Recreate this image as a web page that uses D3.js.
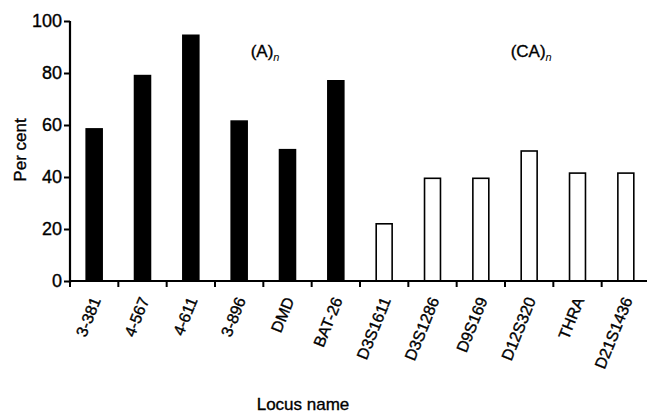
<!DOCTYPE html>
<html>
<head>
<meta charset="utf-8">
<script src="https://cdn.jsdelivr.net/npm/d3@7"></script>
<style>
  body { margin: 0; background: #fff; }
  text { font-family: "Liberation Sans", Arial, sans-serif; fill: #000; stroke: #000; stroke-width: 0.35px; }
</style>
</head>
<body>
<div class="canvas"></div>
<script>
const loci = ["3-381", "4-567", "4-611", "3-896", "DMD", "BAT-26",
  "D3S1611", "D3S1286", "D9S169", "D12S320", "THRA", "D21S1436"];
const percent = [58.5, 79, 94.5, 61.5, 50.5, 77, 22, 39.5, 39.5, 50, 41.5, 41.5];
const repeatType = ["A", "A", "A", "A", "A", "A", "CA", "CA", "CA", "CA", "CA", "CA"];
const yTicks = [0, 20, 40, 60, 80, 100];

const width = 647, height = 413;
const margin = { top: 21, right: -3, bottom: 132, left: 70 };
const graphWidth = width - margin.left - margin.right;
const graphHeight = height - margin.top - margin.bottom;

const svg = d3
  .select(".canvas")
  .append("svg")
  .attr("width", width)
  .attr("height", height);

const graph = svg
  .append("g")
  .attr("transform", `translate(${margin.left}, ${margin.top})`);

// scales
const x = d3.scaleBand().domain(loci).range([0, graphWidth]).paddingInner(0).paddingOuter(0);
const y = d3.scaleLinear().domain([0, 100]).range([graphHeight, 0]);

const barW = x.bandwidth() * 0.33;

// bars
graph
  .selectAll("rect.bar")
  .data(loci)
  .enter()
  .append("rect")
  .attr("class", "bar")
  .attr("x", (d) => x(d) + (x.bandwidth() - barW) / 2)
  .attr("y", (d, i) => y(percent[i]))
  .attr("width", barW)
  .attr("height", (d, i) => graphHeight - y(percent[i]))
  .attr("fill", (d, i) => (repeatType[i] === "A" ? "#000" : "#fff"))
  .attr("stroke", "#000")
  .attr("stroke-width", 1.6);

// x axis: ticks at band boundaries
const xAxisGroup = graph
  .append("g")
  .attr("transform", `translate(0, ${graphHeight})`);

xAxisGroup
  .append("line")
  .attr("x1", 0)
  .attr("x2", graphWidth)
  .attr("stroke", "#000")
  .attr("stroke-width", 2.2);

xAxisGroup
  .selectAll("line.tick")
  .data(loci)
  .enter()
  .append("line")
  .attr("class", "tick")
  .attr("x1", (d) => x(d))
  .attr("x2", (d) => x(d))
  .attr("y1", 0)
  .attr("y2", 6)
  .attr("stroke", "#000")
  .attr("stroke-width", 2);

xAxisGroup
  .selectAll("text.lbl")
  .data(loci)
  .enter()
  .append("text")
  .attr("class", "lbl")
  .attr("text-anchor", "end")
  .attr("font-size", 16)
  .attr("transform", (d) => `translate(${x(d) + x.bandwidth() / 2 + 7}, 19) rotate(-68)`)
  .text((d) => d);

// y axis
const yAxis = d3.axisLeft(y).tickValues(yTicks).tickSize(6).tickPadding(2);
const yAxisGroup = graph.append("g").call(yAxis);
yAxisGroup.select(".domain").attr("stroke-width", 2.2).attr("d", `M0,${graphHeight + 2}V0`);
yAxisGroup.selectAll(".tick line").attr("stroke-width", 2);
yAxisGroup
  .selectAll(".tick text")
  .attr("font-size", 18)
  .attr("font-family", "Liberation Sans, Arial, sans-serif")
  .attr("fill", "#000");

// group labels
const groupLabels = [
  { name: "(A)", at: "4-611", dx: 84 },
  { name: "(CA)", at: "D9S169", dx: 54 }
];
groupLabels.forEach((g) => {
  const t = graph
    .append("text")
    .attr("x", x(g.at) + g.dx)
    .attr("y", 36)
    .attr("font-size", 17);
  t.append("tspan").text(g.name);
  t.append("tspan")
    .attr("dy", 4)
    .attr("font-size", 11)
    .attr("font-style", "italic")
    .attr("stroke-width", 0)
    .text("n");
});

// axis titles
svg
  .append("text")
  .attr("transform", `translate(26, 150) rotate(-90)`)
  .attr("text-anchor", "middle")
  .attr("font-size", 17)
  .text("Per cent");

svg
  .append("text")
  .attr("x", 303)
  .attr("y", 410)
  .attr("text-anchor", "middle")
  .attr("font-size", 17)
  .text("Locus name");
</script>
</body>
</html>
